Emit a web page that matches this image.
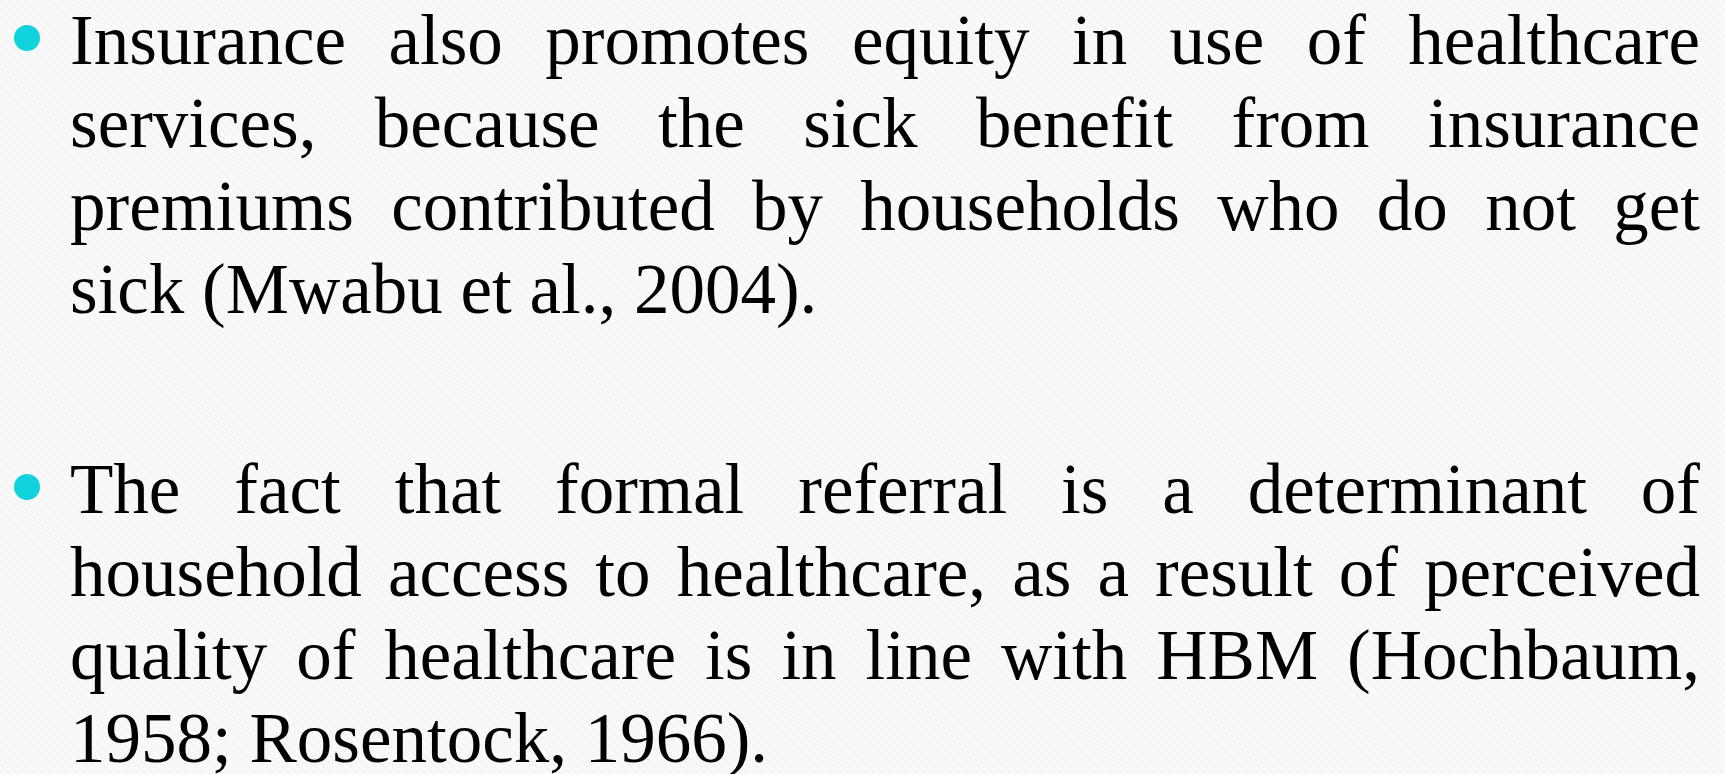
<!DOCTYPE html>
<html>
<head>
<meta charset="utf-8">
<script src="https://cdn.jsdelivr.net/npm/chart.js@4.4.1/dist/chart.umd.min.js"></script>
<style>
  html, body { margin: 0; padding: 0; }
  body {
    width: 1725px; height: 774px; overflow: hidden;
    background-color: #f9f9f9;
    background-image: repeating-linear-gradient(45deg, rgba(0,0,0,0.015) 0 2px, transparent 2px 6px);
    font-family: 'Liberation Serif', 'DejaVu Serif', serif;
    color: #000;
    position: relative;
  }
  .para { position: absolute; left: 70px; width: 1630px; }
  .line { font-size: 71px; height: 83px; line-height: 83px; white-space: nowrap; }
  .line span { display: inline-block; transform-origin: 0 50%; }
  .bullet {
    position: absolute; left: -56px; width: 26px; height: 26px; border-radius: 50%;
    background: #0fd2dd;
  }
</style>
</head>
<body>
<script>
// slide text, one entry per rendered line
const para1Lines = [
  'Insurance also promotes equity in use of healthcare',
  'services, because the sick benefit from insurance',
  'premiums contributed by households who do not get',
  'sick (Mwabu et al., 2004).'
];
const para2Lines = [
  'The fact that formal referral is a determinant of',
  'household access to healthcare, as a result of perceived',
  'quality of healthcare is in line with HBM (Hochbaum,',
  '1958; Rosentock, 1966).'
];
const paraTops = [-1, 448];
const textWidth = 1630;

function addPara(lines, top) {
  const p = document.createElement('div');
  p.className = 'para';
  p.style.top = top + 'px';
  const b = document.createElement('div');
  b.className = 'bullet';
  b.style.top = '26px';
  p.appendChild(b);
  document.body.appendChild(p);
  lines.forEach((t, i) => {
    const d = document.createElement('div');
    d.className = 'line';
    const s = document.createElement('span');
    s.textContent = t;
    d.appendChild(s);
    p.appendChild(d);
    const w = s.getBoundingClientRect().width;
    const last = i === lines.length - 1;
    if (w > textWidth) {
      s.style.transform = 'scaleX(' + (textWidth / w) + ')';
    } else if (!last) {
      // justify: spread the spare room over the word gaps
      const gaps = t.split(' ').length - 1;
      s.style.wordSpacing = ((textWidth - w) / gaps) + 'px';
    }
  });
}
addPara(para1Lines, paraTops[0]);
addPara(para2Lines, paraTops[1]);
</script>
</body>
</html>
